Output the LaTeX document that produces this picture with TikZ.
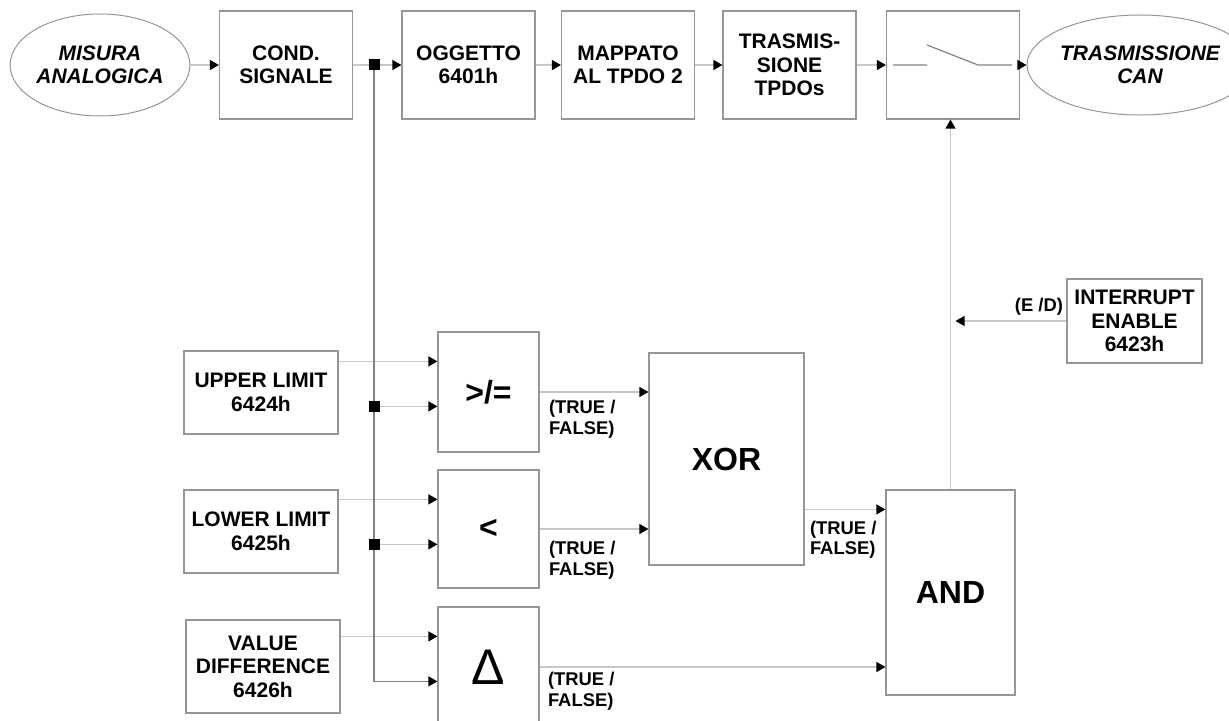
\documentclass[tikz,border=0pt]{standalone}
\usepackage{fontspec}
\setmainfont{Liberation Sans}
\usepackage{xcolor}
\definecolor{boxgray}{RGB}{150,150,150}
\definecolor{wiregray}{RGB}{200,200,200}
\definecolor{busgray}{RGB}{130,130,130}
\usetikzlibrary{arrows.meta, positioning, shapes.geometric, calc}

\begin{document}
\begin{tikzpicture}[x=0.5pt, y=-0.5pt,
  block/.style={draw=boxgray, line width=0.6pt, rectangle, inner sep=0pt, align=center,
    font=\fontsize{10.5}{11.75}\selectfont\bfseries},
  topbox/.style={block, minimum width=66.5pt, minimum height=54pt},
  inbox/.style={block, minimum width=77pt},
  gate/.style={block, font=\fontsize{16}{16}\selectfont\bfseries},
  oval/.style={draw=boxgray, line width=0.5pt, ellipse, inner sep=0pt, align=center,
    font=\fontsize{10.5}{11.75}\selectfont\bfseries\itshape},
  wire/.style={draw=wiregray, line width=0.6pt, -{Triangle[length=4.5pt, width=5pt, black]}},
  bus/.style={wire, draw=busgray},
  swline/.style={draw=busgray, line width=0.6pt},
  dot/.style={fill=black, rectangle, inner sep=0pt, minimum size=5.5pt},
  tf/.style={inner sep=0pt, align=left, font=\fontsize{9.2}{10.2}\selectfont\bfseries}]

  \clip (0,0) rectangle (1229,721);

  % top chain
  \node[oval, minimum width=89.5pt, minimum height=51pt] (mis) at (100,65) {MISURA\\ANALOGICA};
  \node[topbox] (cond) at (286,65) {COND.\\SIGNALE};
  \node[topbox] (ogg) at (468.5,65) {OGGETTO\\6401h};
  \node[topbox] (map) at (628,65) {MAPPATO\\AL TPDO 2};
  \node[topbox] (tra) at (789.5,65) {TRASMIS-\\SIONE\\TPDOs};
  \node[topbox] (sw) at (953,65) {};
  \node[oval, minimum width=88pt, minimum height=50pt] (can) at (1140,65) {TRASMISSIONE\\CAN};

  \foreach \a/\b in {mis/cond, cond/ogg, ogg/map, map/tra, tra/sw, sw/can}
    \draw[wire] (\a) -- (\b);

  % switch symbol
  \draw[swline] ($(sw.center)+(-60,0)$) -- ++(34,0) ++(0,-20) -- ++(51,20) -- ++(34,0);

  % limits and comparators
  \node[inbox, minimum height=41.5pt] (ub) at (261,392.5) {UPPER LIMIT\\6424h};
  \node[inbox, minimum height=41.5pt] (lb) at (261,531.5) {LOWER LIMIT\\6425h};
  \node[inbox, minimum height=46.5pt] (vd) at (263,666.5) {VALUE\\DIFFERENCE\\6426h};

  \node[gate, minimum width=50.5pt, minimum height=60pt] (ge) at (488.5,392) {>/=};
  \node[gate, minimum width=50.5pt, minimum height=59pt] (lt) at (488.5,529) {<};
  \node[gate, minimum width=50.5pt, minimum height=60pt] (dl) at (488.5,667)
       {\fontsize{25}{25}\selectfont\mdseries Δ};

  \node[gate, minimum width=77.5pt, minimum height=106pt] (xor) at (726.5,459) {XOR};
  \node[gate, minimum width=64.5pt, minimum height=102.5pt] (and) at (950.5,592.5) {AND};
  \node[block, minimum width=67.5pt, minimum height=42pt] (ie) at (1134.5,321)
       {INTERRUPT\\ENABLE\\6423h};

  \foreach \n in {ge,lt,dl} {
    \coordinate (\n-a) at ($(\n.north west)+(0,30)$);
    \coordinate (\n-b) at ($(\n.north west)+(0,75)$);
  }

  \draw[wire] (ub.east |- ge-a) -- (ge-a);
  \draw[wire] (lb.east |- lt-a) -- (lt-a);
  \draw[wire] (vd.east |- dl-a) -- (dl-a);

  % signal bus
  \coordinate (tap) at (374,65);
  \draw[bus] (tap) -- (tap |- dl-b) -- (dl-b);
  \node[dot] (j0) at (tap) {};
  \node[dot] (j1) at (tap |- ge-b) {};
  \node[dot] (j2) at (tap |- lt-b) {};
  \draw[wire] (j1) -- (ge-b);
  \draw[wire] (j2) -- (lt-b);

  % logic
  \coordinate (and-a) at ($(and.north west)+(0,20)$);
  \draw[wire] (ge.east) -- (ge.east -| xor.west);
  \draw[wire] (lt.east) -- (lt.east -| xor.west);
  \draw[wire] (xor.east |- and-a) -- (and-a);
  \draw[wire] (dl.east) -- (dl.east -| and.west);
  \draw[wire] (and.north) -- (and.north |- sw.south);
  \draw[wire] (ie.west) -- ($(and.north |- ie.west)+(5,0)$);

  \node[tf, anchor=north west] (tf1) at ($(ge.east)+(9,8)$) {(TRUE /\\FALSE)};
  \node[tf, anchor=north west] (tf2) at ($(lt.east)+(9,12)$) {(TRUE /\\FALSE)};
  \node[tf, anchor=north west] (tf3) at ($(dl.east)+(8,5)$) {(TRUE /\\FALSE)};
  \node[tf, anchor=north west] (tf4) at ($(xor.east |- and-a)+(5,11)$) {(TRUE /\\FALSE)};
  \node[tf, anchor=east] (ed) at ($(ie.west)+(-3,-14)$) {(E /D)};
\end{tikzpicture}
\end{document}
